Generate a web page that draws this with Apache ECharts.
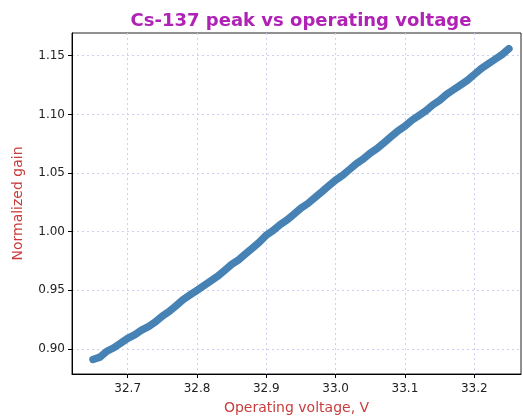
<!DOCTYPE html>
<html>
<head>
<meta charset="utf-8">
<script src="https://cdn.jsdelivr.net/npm/echarts@6/dist/echarts.min.js"></script>
<style>
  html, body { margin: 0; padding: 0; background: #fff; }
  #chart { width: 523px; height: 419px; }
</style>
</head>
<body>
<div id="chart"></div>
<script>
// voltage (V) and normalized gain
const voltage = [
  32.65, 32.66, 32.67, 32.68, 32.69, 32.70, 32.71, 32.72, 32.73, 32.74,
  32.75, 32.76, 32.77, 32.78, 32.79, 32.80, 32.81, 32.82, 32.83, 32.84,
  32.85, 32.86, 32.87, 32.88, 32.89, 32.90, 32.91, 32.92, 32.93, 32.94,
  32.95, 32.96, 32.97, 32.98, 32.99, 33.00, 33.01, 33.02, 33.03, 33.04,
  33.05, 33.06, 33.07, 33.08, 33.09, 33.10, 33.11, 33.12, 33.13, 33.14,
  33.15, 33.16, 33.17, 33.18, 33.19, 33.20, 33.21, 33.22, 33.23, 33.24,
  33.25
]
const gain = [
  0.891, 0.893, 0.898, 0.901, 0.905, 0.909, 0.912, 0.916, 0.919, 0.923,
  0.928, 0.932, 0.937, 0.942, 0.946, 0.950, 0.954, 0.958, 0.962, 0.967,
  0.972, 0.976, 0.981, 0.986, 0.991, 0.997, 1.001, 1.006, 1.010, 1.015,
  1.020, 1.024, 1.029, 1.034, 1.039, 1.044, 1.048, 1.053, 1.058, 1.062,
  1.067, 1.071, 1.076, 1.081, 1.086, 1.090, 1.095, 1.099, 1.103, 1.108,
  1.112, 1.117, 1.121, 1.125, 1.129, 1.134, 1.139, 1.143, 1.147, 1.151,
  1.156
]
const xTicks = [32.7, 32.8, 32.9, 33.0, 33.1, 33.2]
const yTicks = [0.90, 0.95, 1.00, 1.05, 1.10, 1.15]

const chart = echarts.init(document.getElementById('chart'))
const font = 'DejaVu Sans'
const gridLine = { show: true, lineStyle: { color: '#cfcff0', type: [2, 3], width: 1 } }

const option = {
  animation: false,
  title: {
    text: 'Cs-137 peak vs operating voltage',
    left: 296,
    textAlign: 'center',
    top: 7,
    textStyle: { fontFamily: font, fontSize: 18, fontWeight: 'bold', color: '#b021b5' }
  },
  grid: {
    left: 72, right: 2, top: 33, bottom: 45,
    outerBoundsMode: 'none',
    show: true, borderColor: '#222', borderWidth: 1
  },
  xAxis: {
    type: 'value',
    min: 32.6197,
    max: 33.2674,
    name: 'Operating voltage, V',
    nameLocation: 'middle',
    nameGap: 27,
    nameTextStyle: { fontFamily: font, fontSize: 14, color: '#c83c3c' },
    axisLine: { show: true, onZero: false, lineStyle: { color: '#000' } },
    axisTick: { show: true, length: 4, customValues: xTicks, lineStyle: { color: '#000' } },
    axisLabel: {
      customValues: xTicks, fontFamily: font, fontSize: 12, color: '#222', margin: 9,
      formatter: v => v.toFixed(1)
    },
    splitLine: gridLine
  },
  yAxis: {
    type: 'value',
    min: 0.8786,
    max: 1.1694,
    name: 'Normalized gain',
    nameLocation: 'middle',
    nameGap: 47,
    nameTextStyle: { fontFamily: font, fontSize: 14, color: '#c83c3c' },
    axisLine: { show: true, onZero: false, lineStyle: { color: '#000' } },
    axisTick: { show: true, length: 4, customValues: yTicks, lineStyle: { color: '#000' } },
    axisLabel: {
      customValues: yTicks, fontFamily: font, fontSize: 12, color: '#222', margin: 7,
      formatter: v => v.toFixed(2)
    },
    splitLine: gridLine
  },
  series: [{
    type: 'line',
    data: voltage.map((v, i) => [v, gain[i]]),
    showSymbol: false,
    lineStyle: { color: '#4682b4', width: 7.5, cap: 'round', join: 'round' }
  }]
}
chart.setOption(option)
</script>
</body>
</html>
